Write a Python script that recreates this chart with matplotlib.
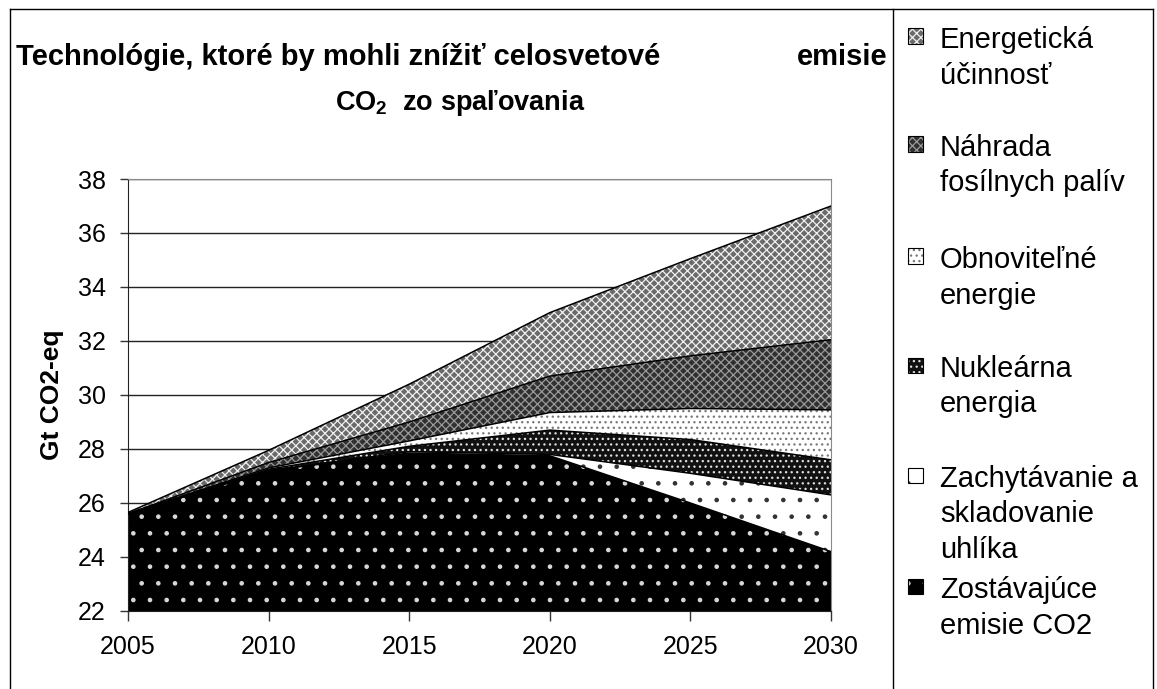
import matplotlib

matplotlib.use("Agg")

import matplotlib.pyplot as plt
import numpy as np
from matplotlib.lines import Line2D
from matplotlib.patches import Rectangle

plt.rcParams["font.family"] = ["Liberation Sans", "DejaVu Sans"]
plt.rcParams["mathtext.fontset"] = "custom"
plt.rcParams["mathtext.rm"] = "Liberation Sans"
plt.rcParams["mathtext.bf"] = "Liberation Sans:bold"
plt.rcParams["hatch.linewidth"] = 0.9

# data, bottom layer first (Gt CO2-eq)
years = [2005, 2010, 2015, 2020, 2025, 2030]
remaining = [25.6, 27.2, 27.85, 27.75, 26.0, 24.2]
ccs = [0.0, 0.0, 0.05, 0.05, 1.1, 2.1]
nuclear = [0.0, 0.05, 0.2, 0.9, 1.25, 1.3]
renewables = [0.0, 0.05, 0.2, 0.65, 1.15, 1.85]
fuel_switch = [0.0, 0.2, 0.7, 1.35, 1.95, 2.6]
efficiency = [0.05, 0.45, 1.4, 2.35, 3.6, 4.95]

series = [remaining, ccs, nuclear, renewables, fuel_switch, efficiency]
labels = [
    "Zostávajúce\nemisie CO2",
    "Zachytávanie a\nskladovanie\nuhlíka",
    "Nukleárna\nenergia",
    "Obnoviteľné\nenergie",
    "Náhrada\nfosílnych palív",
    "Energetická\núčinnosť",
]
yticks = list(range(22, 39, 2))

# (face, hatch, hatch colour)
styles = [
    ("#000000", ".", "#d8d8d8"),
    ("#ffffff", ".", "#333333"),
    ("#111111", "...", "#e0e0e0"),
    ("#ffffff", "...", "#777777"),
    ("#303030", "xxxx", "#9a9a9a"),
    ("#6a6a6a", "xxxx", "#f0f0f0"),
]

fig = plt.figure(figsize=(11.57, 6.89), dpi=100)
ax = fig.add_axes([128 / 1157, 1 - 611 / 689, 703 / 1157, 432 / 689])

tops = np.cumsum(np.array(series, dtype=float), axis=0)
for i, (face, hatch, hc) in enumerate(styles):
    lower = tops[i - 1] if i > 0 else np.full(len(years), 22.0)
    upper = tops[i]
    ax.fill_between(years, lower, upper, facecolor=face, edgecolor="none", lw=0, zorder=2)
    ax.fill_between(years, lower, upper, facecolor="none", hatch=hatch, edgecolor=hc, lw=0, zorder=3)
    ax.plot(years, upper, color="black", lw=1.1, zorder=4)

ax.set_xlim(2005, 2030)
ax.set_ylim(22, 38)
ax.set_xticks(years)
ax.set_yticks(yticks)
ax.yaxis.grid(True, color="#222222", lw=1.0)
ax.set_axisbelow(True)
ax.tick_params(axis="x", direction="out", length=7, width=1, pad=10, labelsize=18, color="#333333")
ax.tick_params(axis="y", direction="out", length=6, width=1, pad=10, labelsize=18, color="#333333")
for side in ["top", "right"]:
    ax.spines[side].set_color("#8a8a8a")
for side in ["left", "bottom"]:
    ax.spines[side].set_color("#222222")
ax.set_ylabel("Gt CO2-eq", fontsize=19, fontweight="bold", labelpad=10)

# title
fig.text(16 / 1157, 1 - 65 / 689, "Technológie, ktoré by mohli znížiť celosvetové",
         fontsize=21, fontweight="bold", ha="left", va="baseline")
fig.text(888 / 1157, 1 - 65 / 689, "emisie", fontsize=21, fontweight="bold", ha="right", va="baseline")
fig.text(460 / 1157, 1 - 110 / 689, r"$\mathbf{CO_2}$  zo spaľovania",
         fontsize=19.5, fontweight="bold", ha="center", va="baseline")

# frame around chart and legend
for xs, ys in [
    ([10, 10], [9, 689]),
    ([10, 1153], [9, 9]),
    ([1153, 1153], [9, 689]),
    ([893, 893], [9, 689]),
]:
    fig.add_artist(Line2D([x / 1157 for x in xs], [1 - y / 689 for y in ys],
                          transform=fig.transFigure, color="black", lw=1.0))

# legend, top entry first
first_baselines = [48, 156, 268, 377, 487, 598]
line_step = 35.5
for k, idx in enumerate(range(len(series) - 1, -1, -1)):
    face, hatch, hc = styles[idx]
    b = first_baselines[k]
    cy = b - 12
    box = (908 / 1157, 1 - (cy + 7.5) / 689)
    fig.add_artist(Rectangle(box, 15 / 1157, 15 / 689, transform=fig.transFigure,
                             facecolor=face, edgecolor="none", lw=0))
    fig.add_artist(Rectangle(box, 15 / 1157, 15 / 689, transform=fig.transFigure,
                             facecolor="none", edgecolor=hc, lw=0, hatch=hatch))
    fig.add_artist(Rectangle(box, 15 / 1157, 15 / 689, transform=fig.transFigure,
                             facecolor="none", edgecolor="black", lw=0.8))
    for j, line in enumerate(labels[idx].split("\n")):
        fig.text(940 / 1157, 1 - (b + j * line_step) / 689, line, fontsize=21,
                 ha="left", va="baseline")

fig.savefig("out.png", dpi=100)
